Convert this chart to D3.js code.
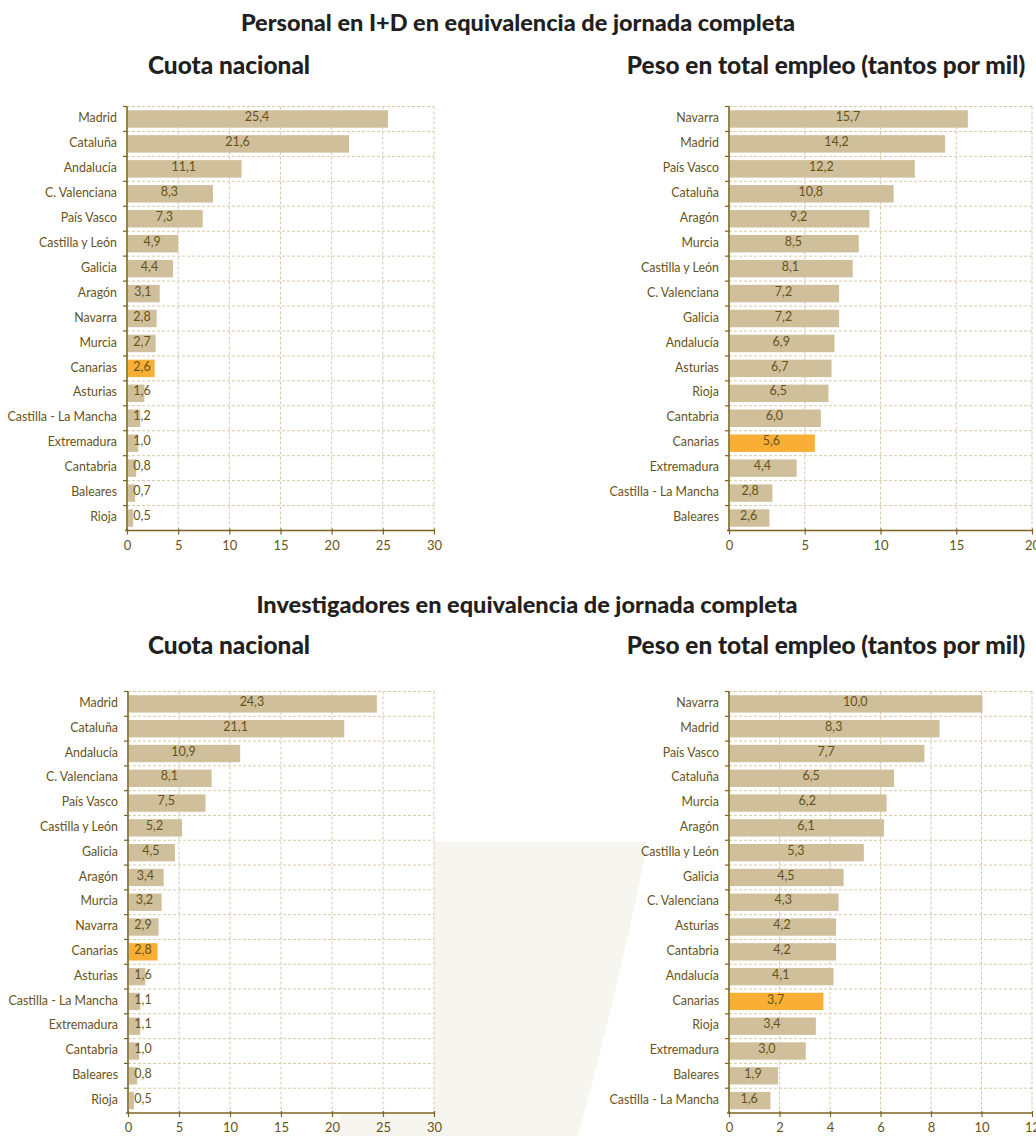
<!DOCTYPE html>
<html>
<head>
<meta charset="utf-8">
<script src="https://cdn.jsdelivr.net/npm/d3@7"></script>
<style>
  html, body { margin: 0; padding: 0; background: #fff; }
  svg { display: block; }
</style>
</head>
<body>
<svg id="chart" width="1036" height="1136"></svg>
<script>
// ── Data ────────────────────────────────────────────────────────────────────
const PERS_CUOTA_REG = ['Madrid', 'Cataluña', 'Andalucía', 'C. Valenciana', 'País Vasco', 'Castilla y León',
  'Galicia', 'Aragón', 'Navarra', 'Murcia', 'Canarias', 'Asturias', 'Castilla - La Mancha',
  'Extremadura', 'Cantabria', 'Baleares', 'Rioja'];
const PERS_CUOTA_VAL = [25.4, 21.6, 11.1, 8.3, 7.3, 4.9, 4.4, 3.1, 2.8, 2.7, 2.6, 1.6, 1.2, 1.0, 0.8, 0.7, 0.5];

const PERS_PESO_REG = ['Navarra', 'Madrid', 'País Vasco', 'Cataluña', 'Aragón', 'Murcia', 'Castilla y León',
  'C. Valenciana', 'Galicia', 'Andalucía', 'Asturias', 'Rioja', 'Cantabria', 'Canarias',
  'Extremadura', 'Castilla - La Mancha', 'Baleares'];
const PERS_PESO_VAL = [15.7, 14.2, 12.2, 10.8, 9.2, 8.5, 8.1, 7.2, 7.2, 6.9, 6.7, 6.5, 6.0, 5.6, 4.4, 2.8, 2.6];

const INV_CUOTA_REG = ['Madrid', 'Cataluña', 'Andalucía', 'C. Valenciana', 'País Vasco', 'Castilla y León',
  'Galicia', 'Aragón', 'Murcia', 'Navarra', 'Canarias', 'Asturias', 'Castilla - La Mancha',
  'Extremadura', 'Cantabria', 'Baleares', 'Rioja'];
const INV_CUOTA_VAL = [24.3, 21.1, 10.9, 8.1, 7.5, 5.2, 4.5, 3.4, 3.2, 2.9, 2.8, 1.6, 1.1, 1.1, 1.0, 0.8, 0.5];

const INV_PESO_REG = ['Navarra', 'Madrid', 'País Vasco', 'Cataluña', 'Murcia', 'Aragón', 'Castilla y León',
  'Galicia', 'C. Valenciana', 'Asturias', 'Cantabria', 'Andalucía', 'Canarias', 'Rioja',
  'Extremadura', 'Baleares', 'Castilla - La Mancha'];
const INV_PESO_VAL = [10.0, 8.3, 7.7, 6.5, 6.2, 6.1, 5.3, 4.5, 4.3, 4.2, 4.2, 4.1, 3.7, 3.4, 3.0, 1.9, 1.6];

const TICKS_30 = [0, 5, 10, 15, 20, 25, 30];
const TICKS_20 = [0, 5, 10, 15, 20];
const TICKS_12 = [0, 2, 4, 6, 8, 10, 12];

const HIGHLIGHT = 'Canarias';

// ── Styles ──────────────────────────────────────────────────────────────────
const FONT = 'Lato, "Open Sans", sans-serif';
const TEXT_BROWN = '#67531a';
const AXIS_BROWN = '#7d6320';
const BAR_FILL = '#cfbf9b';
const BAR_HI = '#f9ae35';
const GRID = '#d9c9a8';

const svg = d3.select('#chart');

// ── Background swoosh ───────────────────────────────────────────────────────
svg.append('path')
  .attr('d', 'M 420 842 L 648 842 Q 618 990 578 1136 L 333 1136 Q 362 1060 420 842 Z')
  .attr('fill', '#f7f5ef');

// ── Titles ──────────────────────────────────────────────────────────────────
function title(x, y, txt, size) {
  svg.append('text')
    .attr('x', x).attr('y', y)
    .attr('text-anchor', 'middle')
    .attr('fill', '#231f20')
    .attr('font-family', FONT)
    .attr('font-weight', 900)
    .attr('font-size', size + 'px')
    .text(txt);
}
title(518, 31, 'Personal en I+D en equivalencia de jornada completa', 23.5);
title(229, 74, 'Cuota nacional', 24.4);
title(826, 74, 'Peso en total empleo (tantos por mil)', 24.4);
title(527, 613, 'Investigadores en equivalencia de jornada completa', 23.5);
title(229, 654, 'Cuota nacional', 24.4);
title(826, 654, 'Peso en total empleo (tantos por mil)', 24.4);

// ── Panel ───────────────────────────────────────────────────────────────────
function panel(box, regions, values, ticks) {
  const rows = regions.map((r, i) => ({ region: r, value: values[i] }));
  const x = d3.scaleLinear()
    .domain([0, ticks[ticks.length - 1]])
    .range([box.x0, box.x1]);
  const y = d3.scaleBand()
    .domain(regions)
    .range([box.y0, box.y1])
    .paddingInner(0.3)
    .paddingOuter(0.15);
  const step = y.step();
  const rowTop = r => y(r) - step * 0.15;

  const g = svg.append('g');

  // plot background (covers swoosh)
  g.append('rect')
    .attr('x', box.x0).attr('y', box.y0)
    .attr('width', box.x1 - box.x0).attr('height', box.y1 - box.y0)
    .attr('fill', '#fff');

  // grid
  const gridG = g.append('g')
    .attr('stroke', GRID)
    .attr('stroke-width', 1)
    .attr('stroke-dasharray', '3,2');
  ticks.slice(1).forEach(t => {
    gridG.append('line')
      .attr('x1', x(t)).attr('x2', x(t))
      .attr('y1', box.y0).attr('y2', box.y1);
  });
  regions.forEach(r => {
    gridG.append('line')
      .attr('x1', box.x0).attr('x2', box.x1)
      .attr('y1', rowTop(r)).attr('y2', rowTop(r));
  });

  // bars
  g.selectAll('rect.bar').data(rows).join('rect')
    .attr('class', 'bar')
    .attr('x', x(0) + 1)
    .attr('y', d => y(d.region))
    .attr('width', d => x(d.value) - x(0))
    .attr('height', y.bandwidth())
    .attr('fill', d => d.region === HIGHLIGHT ? BAR_HI : BAR_FILL);

  // value labels
  g.selectAll('text.val').data(rows).join('text')
    .attr('class', 'val')
    .attr('x', d => Math.max((x(0) + x(d.value)) / 2, x(0) + 15))
    .attr('y', d => y(d.region) + y.bandwidth() / 2 - 1)
    .attr('text-anchor', 'middle')
    .attr('dominant-baseline', 'middle')
    .attr('fill', TEXT_BROWN)
    .attr('font-family', FONT)
    .attr('font-size', '12.5px')
    .text(d => d.value.toFixed(1).replace('.', ','));

  // category labels
  g.selectAll('text.cat').data(rows).join('text')
    .attr('class', 'cat')
    .attr('x', box.x0 - 10)
    .attr('y', d => y(d.region) + y.bandwidth() / 2)
    .attr('text-anchor', 'end')
    .attr('dominant-baseline', 'middle')
    .attr('fill', TEXT_BROWN)
    .attr('font-family', FONT)
    .attr('font-size', '12.4px')
    .text(d => d.region);

  // left axis with ticks at row boundaries
  const leftG = g.append('g').attr('stroke', AXIS_BROWN);
  leftG.append('line')
    .attr('x1', box.x0).attr('x2', box.x0)
    .attr('y1', box.y0).attr('y2', box.y1)
    .attr('stroke-width', 1.6);
  regions.forEach(r => {
    leftG.append('line')
      .attr('x1', box.x0 - 4).attr('x2', box.x0)
      .attr('y1', rowTop(r)).attr('y2', rowTop(r))
      .attr('stroke-width', 1.2);
  });

  // bottom axis
  g.append('g')
    .attr('transform', `translate(0,${box.y1})`)
    .call(d3.axisBottom(x).tickValues(ticks).tickSize(4).tickPadding(6).tickFormat(d3.format('d')))
    .call(a => a.select('.domain').attr('stroke', AXIS_BROWN).attr('stroke-width', 1.6)
      .attr('d', `M${box.x0 - 2},0H${box.x1 + 1}`))
    .call(a => a.selectAll('.tick line').attr('stroke', AXIS_BROWN).attr('stroke-width', 1.2).attr('y1', -2))
    .call(a => a.selectAll('.tick text')
      .attr('fill', TEXT_BROWN)
      .attr('font-family', FONT)
      .attr('font-size', '13px'));
}

panel({ x0: 127, x1: 434, y0: 106.5, y1: 530.5 }, PERS_CUOTA_REG, PERS_CUOTA_VAL, TICKS_30);
panel({ x0: 729, x1: 1032, y0: 106.5, y1: 530.5 }, PERS_PESO_REG, PERS_PESO_VAL, TICKS_20);
panel({ x0: 128, x1: 434, y0: 691.5, y1: 1113 }, INV_CUOTA_REG, INV_CUOTA_VAL, TICKS_30);
panel({ x0: 729, x1: 1032, y0: 691.5, y1: 1113 }, INV_PESO_REG, INV_PESO_VAL, TICKS_12);
</script>
</body>
</html>
